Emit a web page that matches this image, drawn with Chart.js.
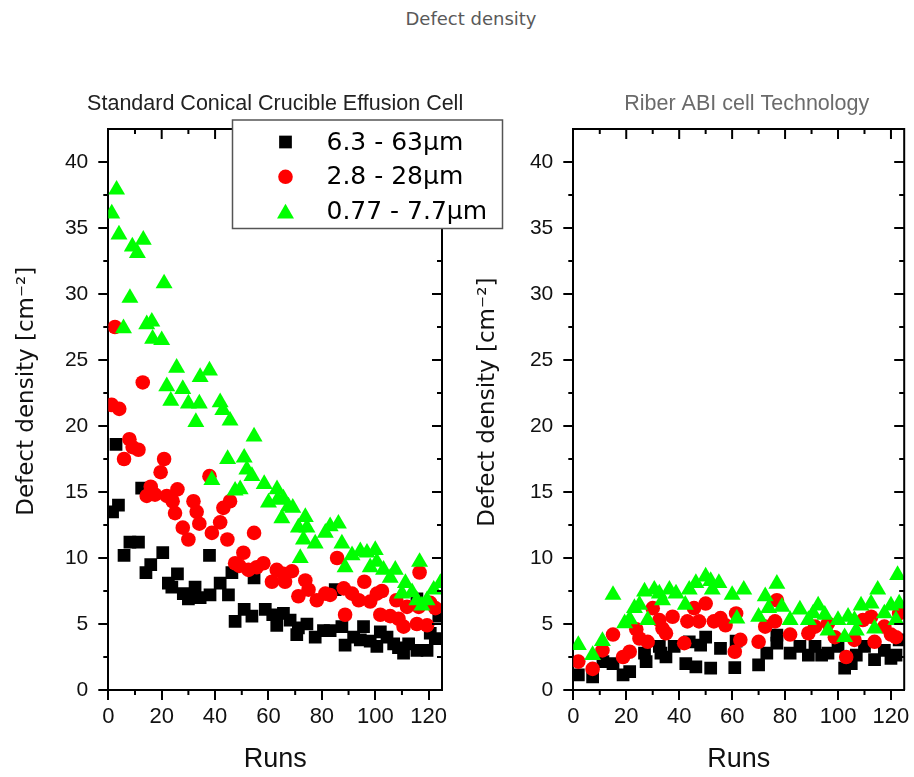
<!DOCTYPE html>
<html>

<head>
    <title>Defect density</title>
    <meta charset="utf-8">
    <script src="https://cdn.jsdelivr.net/npm/chart.js@4.4.1/dist/chart.umd.min.js"></script>
    <style>
        body { margin: 0; background: #fff; }
        #frame { position: relative; width: 914px; height: 777px; overflow: hidden; }
        #main_title {
            position: absolute; left: 321px; top: 8px; width: 300px; text-align: center;
            font: 18px 'DejaVu Sans', sans-serif; color: #595959; line-height: 22px;
        }
        canvas { position: absolute; top: 0; }
        #left_chart { left: 0; }
        #right_chart { left: 440px; }
    </style>
</head>

<body>
    <div id="frame">
        <div id="main_title">Defect density</div>
        <canvas id="left_chart" width="520" height="777"></canvas>
        <canvas id="right_chart" width="474" height="777"></canvas>
    </div>
</body>
<script>
    // series names
    const seriesLabels = ['6.3 - 63\u00B5m', '2.8 - 28\u00B5m', '0.77 - 7.7\u00B5m'];

    // standard conical crucible - large defects (6.3 - 63um)
    const stdRunsL = [1.6, 2.9, 3.8, 5.9, 8.1, 11.3, 12.5, 14.1, 15.9, 20.4, 22.5, 23.8, 25.9, 28.1, 30, 32.5, 34.4, 37.9, 38.1, 41.9,
        45, 46.3, 47.5, 50.9, 53.8, 54.6, 58.8, 61.6, 63.1, 65.6, 68.1, 70.6, 71.2, 74.4, 77.5, 80.6, 83.1, 85, 87.5, 88.7,
        91.9, 94.4, 95.6, 98.1, 100.6, 101.9, 104.4, 106.9, 108.7, 110.6, 112.5, 115.6, 115.6, 119.4, 120.6, 122.5, 123.8];
    const stdValsL = [13.5, 18.6, 14.0, 10.2, 11.2, 11.2, 15.3, 8.9, 9.5, 10.4, 8.1, 7.8, 8.8, 7.3, 6.9, 7.8, 7.0, 10.2, 7.2, 8.1,
        7.2, 8.9, 5.2, 6.1, 5.6, 8.5, 6.1, 5.7, 4.9, 5.8, 5.3, 4.2, 4.7, 5.0, 4.0, 4.5, 4.5, 7.6, 4.8, 3.4,
        4.0, 3.8, 4.8, 3.7, 3.3, 4.4, 4.0, 3.5, 3.2, 2.8, 3.5, 3.0, 6.9, 3.0, 4.3, 3.9, 5.6];

    // standard conical crucible - medium defects (2.8 - 28um)
    const stdRunsM = [1.3, 2.5, 4.1, 5.9, 7.9, 9.1, 11.3, 12.9, 14.4, 15.9, 17.5, 19.6, 20.9, 21.9, 24.1, 25, 25.9, 27.9, 30, 31.9,
        33.1, 34.1, 37.9, 38.8, 41.9, 43.1, 44.6, 45.6, 47.5, 49.1, 50.6, 52.5, 54.6, 55.6, 58.1, 61.3, 63.1, 65.6, 66.2, 68.8,
        71.2, 73.8, 75, 78.1, 81.3, 83.1, 85.7, 88.2, 88.7, 91.3, 93.8, 95.9, 98.1, 100.6, 101.9, 102.5, 105.6, 107.9, 108.7, 110.6,
        111.9, 115.6, 116.3, 116.6, 119.4, 120.6, 122.5];
    const stdValsM = [21.6, 27.5, 21.3, 17.5, 19.0, 18.4, 18.2, 23.3, 14.7, 15.4, 14.8, 16.5, 17.5, 14.7, 14.3, 13.4, 15.2, 12.3, 11.4, 14.3,
        13.5, 12.6, 16.2, 11.9, 12.7, 13.8, 11.4, 14.3, 9.6, 9.4, 10.4, 9.1, 11.9, 9.3, 9.6, 8.2, 9.1, 8.8, 8.2, 9.0,
        7.1, 8.3, 7.6, 6.8, 7.3, 7.2, 10.0, 7.7, 5.7, 7.3, 6.8, 8.2, 6.7, 7.3, 5.7, 7.5, 5.6, 6.8, 5.4, 4.8,
        6.3, 5.0, 6.3, 8.9, 4.9, 6.6, 6.2];

    // standard conical crucible - small defects (0.77 - 7.7um)
    const stdRunsS = [1.3, 3.1, 4, 5.7, 8.1, 9, 10.9, 13.1, 14.4, 16.3, 16.6, 20, 20.9, 21.9, 23.4, 25.6, 27.9, 30, 32.8, 34.1,
        34.4, 37.9, 38.8, 41.9, 42.9, 44.7, 45.6, 47.5, 49.4, 50.9, 51.9, 53.8, 54.6, 58.4, 60, 63.2, 63.4, 65, 65.6, 67.5,
        69.1, 71.2, 71.9, 73.1, 73.8, 74.4, 77.5, 81.3, 83.1, 86.2, 87.5, 88.7, 91.3, 94.4, 96.9, 98.1, 100, 100.6, 103.1, 105.6,
        107.5, 110, 111.3, 113.8, 115.6, 116.6, 117.5, 119.4, 121.9, 124.4];
    const stdValsS = [36.1, 37.9, 34.5, 27.4, 29.7, 33.6, 33.1, 34.1, 27.7, 27.9, 26.6, 26.5, 30.8, 23.0, 21.9, 24.4, 22.8, 21.7, 20.3, 21.7,
        23.7, 24.2, 15.9, 21.8, 21.2, 17.5, 20.4, 15.1, 15.2, 17.6, 16.7, 16.2, 19.2, 15.6, 14.2, 15.2, 14.4, 13.0, 14.5, 13.9,
        13.8, 12.3, 10.0, 11.4, 13.1, 12.3, 11.1, 11.9, 12.4, 12.6, 11.1, 9.3, 10.2, 10.5, 10.4, 9.3, 10.6, 9.7, 9.1, 8.5,
        9.1, 7.3, 8.1, 7.4, 6.8, 9.7, 6.4, 6.8, 7.6, 8.1];

    // riber abi cell - large defects
    const abiRunsL = [1.9, 7.3, 11.2, 15, 18.8, 21.3, 26.9, 27.5, 32.5, 33.1, 35, 38.1, 42.5, 43.8, 46.3, 48.1, 50, 51.9, 55.6, 61,
        61.5, 70, 73.1, 76.9, 76.9, 81.9, 85.6, 88.8, 91.3, 93.8, 96.2, 100, 102.5, 105, 106.9, 110, 113.8, 117.5, 120, 121.9, 123.1];
    const abiValsL = [1.15, 1.0, 2.15, 2.0, 1.15, 1.4, 2.8, 2.15, 3.3, 2.8, 2.5, 3.3, 2.0, 3.65, 1.75, 3.4, 4.0, 1.65, 3.15, 1.7,
        3.7, 1.9, 2.8, 4.15, 3.55, 2.8, 3.3, 2.65, 3.3, 2.65, 2.8, 3.3, 1.65, 2.0, 2.65, 3.3, 2.3, 3.0, 2.4, 2.65, 3.8];

    // riber abi cell - medium defects
    const abiRunsM = [1.9, 7.3, 11, 15, 18.8, 21.3, 23.8, 25, 28.1, 30, 32.5, 33.7, 35, 37.5, 41.9, 43.1, 45.6, 47.5, 50, 53.1,
        55.6, 57.5, 61.5, 61, 63.1, 70, 72.5, 76.2, 76.9, 81.9, 88.8, 91.3, 96.2, 98.8, 103.1, 106.2, 109.4, 112.5, 113.8, 117.5,
        120, 121.9, 123.1];
    const abiValsM = [2.15, 1.6, 3.0, 4.2, 2.5, 2.9, 4.6, 3.9, 3.65, 6.2, 5.3, 4.65, 4.3, 5.55, 3.55, 5.2, 6.2, 5.2, 6.55, 5.2,
        5.45, 4.9, 5.8, 2.9, 3.8, 3.65, 4.8, 5.2, 6.8, 4.2, 4.3, 4.8, 5.05, 4.0, 2.5, 3.8, 5.3, 5.55, 3.65, 4.8,
        4.2, 4.0, 5.8];

    // riber abi cell - small defects
    const abiRunsS = [1.9, 7.3, 11, 15, 19.4, 21.3, 23.1, 25, 26.9, 28.1, 30.6, 32.5, 33.7, 36.3, 38.8, 42.3, 43.8, 46.3, 50, 51.9,
        52.5, 55, 60, 61.8, 64.4, 70, 72.5, 73.8, 76.9, 78.8, 81.9, 85.6, 88.8, 90.6, 92.5, 95, 96.2, 100, 102.5, 103.8,
        106.2, 106.9, 108.7, 112.5, 113.8, 115, 117.5, 120, 121.9, 122.5, 123.1];
    const abiValsS = [3.4, 2.65, 3.7, 7.2, 5.05, 5.35, 6.2, 6.45, 7.45, 5.3, 7.6, 7.3, 6.8, 7.6, 7.3, 6.45, 7.6, 8.1, 8.6, 8.25,
        7.6, 8.1, 7.2, 5.4, 7.6, 5.55, 7.1, 6.2, 8.05, 6.3, 5.3, 6.1, 5.3, 5.8, 6.4, 5.7, 4.5, 5.3, 4.0, 5.55,
        5.3, 4.5, 6.4, 6.55, 4.65, 7.6, 5.8, 6.4, 5.3, 8.7, 6.55];

    // axis ticks
    const xMax = 125, xStep = 20, xMinor = 10;
    const yMax = 42.5, yStep = 5, yMinor = 2.5;

    const seriesColors = ['#000000', '#ff0000', '#00ff00'];
    const seriesStyles = ['rect', 'circle', 'triangle'];
    const seriesRadius = [9, 7.3, 9.8];

    const sansFont = "'Liberation Sans', Arial, sans-serif";
    const wideFont = "'DejaVu Sans', sans-serif";
    const yTitle = 'Defect density [cm\u207B\u00B2]';

    function points(runs, vals) {
        return runs.map(function (r, i) { return {x: r, y: vals[i]}; });
    }

    function makeDatasets(sets) {
        // black drawn first, green on top
        return sets.map(function (s, i) {
            return {
                label: seriesLabels[i],
                data: points(s[0], s[1]),
                pointStyle: seriesStyles[i],
                pointRadius: seriesRadius[i],
                pointBackgroundColor: seriesColors[i],
                pointBorderColor: seriesColors[i],
                pointBorderWidth: 0,
                showLine: false,
                order: 3 - i
            };
        });
    }

    // closes the box, draws minor / mirrored ticks and the panel title
    const framePlugin = {
        id: 'frame',
        afterDatasetsDraw(chart, args, opts) {
            const ctx = chart.ctx;
            const a = chart.chartArea;
            const x = chart.scales.x, y = chart.scales.y;
            ctx.save();
            ctx.strokeStyle = '#000';
            ctx.lineWidth = 2;
            ctx.beginPath();
            ctx.moveTo(a.left, a.top);
            ctx.lineTo(a.right, a.top);
            ctx.lineTo(a.right, a.bottom);
            for (let v = xMinor; v < xMax; v += xMinor) {
                const px = x.getPixelForValue(v);
                const major = v % xStep === 0;
                ctx.moveTo(px, a.top);
                ctx.lineTo(px, a.top + (major ? 10 : 5));
                if (!major) { ctx.moveTo(px, a.bottom); ctx.lineTo(px, a.bottom + 5); }
            }
            for (let v = yMinor; v < yMax; v += yMinor) {
                const py = y.getPixelForValue(v);
                const major = v % yStep === 0;
                ctx.moveTo(a.right, py);
                ctx.lineTo(a.right - (major ? 10 : 5), py);
                if (!major) { ctx.moveTo(a.left, py); ctx.lineTo(a.left - 5, py); }
            }
            ctx.stroke();

            // panel title, allowed to run wider than the plot
            ctx.fillStyle = opts.color;
            ctx.font = '21.5px ' + sansFont;
            ctx.textAlign = 'center';
            ctx.textBaseline = 'middle';
            ctx.fillText(opts.text, (a.left + a.right) / 2 + opts.shift, a.top - 25);
            ctx.restore();
        }
    };

    function drawMarker(ctx, style, cx, cy, r) {
        ctx.beginPath();
        if (style === 'rect') {
            const s = r * Math.SQRT1_2;
            ctx.rect(cx - s, cy - s, 2 * s, 2 * s);
        } else if (style === 'circle') {
            ctx.arc(cx, cy, r, 0, Math.PI * 2);
        } else {
            ctx.moveTo(cx, cy - r);
            ctx.lineTo(cx + r * Math.sin(2 * Math.PI / 3), cy + r / 2);
            ctx.lineTo(cx - r * Math.sin(2 * Math.PI / 3), cy + r / 2);
            ctx.closePath();
        }
        ctx.fill();
    }

    // legend box sitting over the top right of the left panel
    const boxLegend = {
        id: 'boxLegend',
        afterDraw(chart) {
            const ctx = chart.ctx;
            const box = {left: 232.5, top: 120, width: 270, height: 108.5};
            ctx.save();
            ctx.fillStyle = '#fff';
            ctx.fillRect(box.left, box.top, box.width, box.height);
            ctx.strokeStyle = '#555';
            ctx.lineWidth = 1.5;
            ctx.strokeRect(box.left, box.top, box.width, box.height);
            ctx.font = '25px ' + wideFont;
            ctx.textBaseline = 'middle';
            chart.data.datasets.forEach(function (ds, i) {
                const rowY = box.top + 22 + i * 34.8;
                ctx.fillStyle = seriesColors[i];
                drawMarker(ctx, seriesStyles[i], box.left + 53, rowY + (i === 2 ? 2 : 0), seriesRadius[i]);
                ctx.fillStyle = '#000';
                ctx.fillText(ds.label, box.left + 94, rowY + 1);
            });
            ctx.restore();
        }
    };

    function newchart(canvasId, title, titleColor, titleShift, sets, axisWidth, yTitlePad, yTitleShift, padRight, extraPlugins) {
        const panel_options = {
            responsive: false,
            animation: false,
            events: [],
            devicePixelRatio: 1,
            layout: {padding: {left: 0, right: padRight, top: 129, bottom: 0}},
            plugins: {
                legend: {display: false},
                tooltip: {enabled: false},
                title: {display: false},
                frame: {text: title, color: titleColor, shift: titleShift}
            },
            scales: {
                x: {
                    type: 'linear', min: 0, max: xMax,
                    afterFit: function (scale) { scale.height = 87; },
                    border: {display: true, color: '#000', width: 2},
                    grid: {display: true, drawOnChartArea: false, drawTicks: true, tickLength: 10, color: '#000', lineWidth: 2},
                    ticks: {stepSize: xStep, includeBounds: false, color: '#111', padding: 4, maxRotation: 0,
                        font: {family: sansFont, size: 22}},
                    title: {display: true, text: 'Runs', color: '#111', padding: {top: 0, bottom: 1},
                        font: {family: sansFont, size: 27}}
                },
                y: {
                    type: 'linear', min: 0, max: yMax,
                    afterFit: function (scale) { scale.width = axisWidth; },
                    border: {display: true, color: '#000', width: 2},
                    grid: {display: true, drawOnChartArea: false, drawTicks: true, tickLength: 10, color: '#000', lineWidth: 2},
                    ticks: {stepSize: yStep, includeBounds: false, color: '#111', padding: 10,
                        font: {family: sansFont, size: 21}},
                    title: {display: true, text: '\u00A0'.repeat(yTitleShift) + yTitle, color: '#111',
                        padding: {top: yTitlePad, bottom: 0}, font: {family: wideFont, size: 23}}
                }
            }
        };

        return new Chart(canvasId, {
            type: 'scatter',
            data: {datasets: makeDatasets(sets)},
            options: panel_options,
            plugins: [framePlugin].concat(extraPlugins)
        });
    }

    newchart('left_chart', 'Standard Conical Crucible Effusion Cell', '#222', 0,
        [[stdRunsL, stdValsL], [stdRunsM, stdValsM], [stdRunsS, stdValsS]], 108.3, 13.7, 5, 78, [boxLegend]);
    newchart('right_chart', 'Riber ABI cell Technology', '#6b6b6b', 8,
        [[abiRunsL, abiValsL], [abiRunsM, abiValsM], [abiRunsS, abiValsS]], 133.3, 34.2, 2, 8.3, []);
</script>
</html>
